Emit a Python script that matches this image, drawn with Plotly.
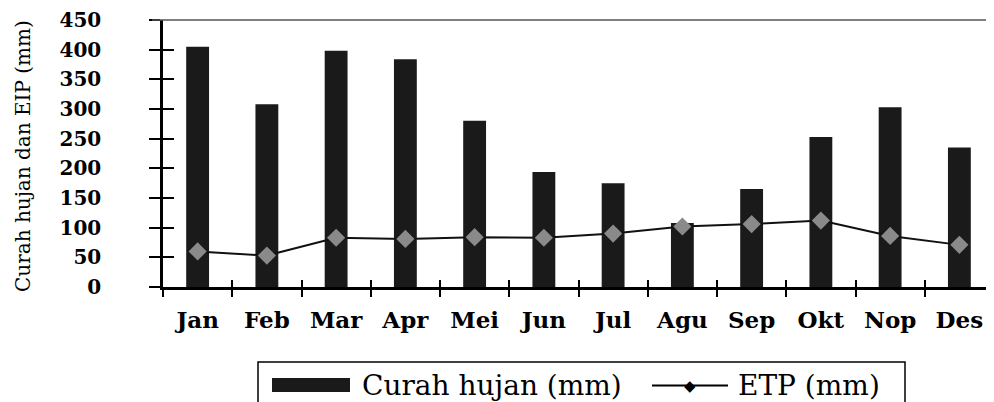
import plotly.graph_objects as go

months = ["Jan", "Feb", "Mar", "Apr", "Mei", "Jun", "Jul", "Agu", "Sep", "Okt", "Nop", "Des"]
curah_hujan = [405, 308, 398, 384, 280, 194, 175, 108, 165, 253, 303, 235]
etp = [60, 53, 83, 81, 84, 83, 90, 102, 106, 112, 86, 71]
y_ticks = [0, 50, 100, 150, 200, 250, 300, 350, 400, 450]

# the page body has an 8px default margin, so the figure is sized/placed to compensate
OFF = 8
W, H = 994 - OFF, 402 - OFF
ML, MR, MT = 163 - OFF, 0, 20 - OFF
MB = H - (287 - OFF)
PW, PH = W - ML - MR, H - MT - MB


def px(x):
    """reference page x (pixels) -> paper coordinate"""
    return (x - OFF - ML) / PW


def py(y):
    """reference page y (pixels) -> paper coordinate"""
    return (H - MB - (y - OFF)) / PH


SERIF = "DejaVu Serif"

fig = go.Figure()
fig.add_trace(go.Bar(
    x=months, y=curah_hujan, name="Curah hujan (mm)",
    marker=dict(color="#1a1a1a", line=dict(width=0)), width=0.33,
    showlegend=False,
))
fig.add_trace(go.Scatter(
    x=months, y=etp, name="ETP (mm)", mode="lines+markers",
    line=dict(color="#111111", width=2),
    marker=dict(symbol="diamond", size=14, color="#8a8a8a", line=dict(width=0)),
    showlegend=False,
))
# invisible helper trace so the overlay axes (crossing ticks) are drawn
fig.add_trace(go.Scatter(x=[None], y=[None], xaxis="x2", yaxis="y2",
                         showlegend=False, hoverinfo="skip"))

fig.update_layout(
    width=W, height=H,
    margin=dict(l=ML, r=MR, t=MT, b=MB, pad=0, autoexpand=False),
    paper_bgcolor="white", plot_bgcolor="white",
    xaxis=dict(
        type="category", range=[-0.5, 11.5], tickson="boundaries",
        ticks="outside", ticklen=7, tickwidth=2, tickcolor="black",
        showline=True, linecolor="black", linewidth=2.5,
        showgrid=False, zeroline=False, automargin=False,
        tickfont=dict(family=SERIF, size=23, color="black", weight="bold"),
        ticklabelstandoff=11, ticklabeloverflow="allow",
    ),
    yaxis=dict(
        range=[0, 450], tickvals=y_ticks,
        ticks="outside", ticklen=11, tickwidth=2, tickcolor="black",
        showline=True, linecolor="black", linewidth=2.5,
        showgrid=False, zeroline=False, automargin=False,
        tickfont=dict(family=SERIF, size=20, color="black", weight="bold"),
        ticklabelstandoff=44, ticklabeloverflow="allow",
    ),
    xaxis2=dict(
        overlaying="x", anchor="y", range=[-0.5, 11.5],
        tickvals=[i + 0.5 for i in range(-1, 12)],
        ticks="inside", ticklen=7, tickwidth=2, tickcolor="black",
        showticklabels=False, showline=False, showgrid=False, zeroline=False,
    ),
    yaxis2=dict(
        overlaying="y", anchor="x", range=[0, 450], tickvals=y_ticks,
        ticks="inside", ticklen=11, tickwidth=2, tickcolor="black",
        showticklabels=False, showline=False, showgrid=False, zeroline=False,
    ),
    showlegend=False,
)

# top border line of the plot area
fig.add_shape(type="line", xref="paper", yref="paper", x0=px(152), x1=1, y0=1, y1=1,
              line=dict(color="#555555", width=1.5))

# y axis title
fig.add_annotation(
    text="Curah hujan dan EIP (mm)", textangle=-90,
    xref="paper", yref="paper", x=px(23), y=py(156),
    xanchor="center", yanchor="middle", showarrow=False,
    font=dict(family=SERIF, size=20, color="black"),
)

# legend (drawn by hand to match the wide swatch of the original)
fig.add_shape(type="rect", xref="paper", yref="paper",
              x0=px(258), x1=px(905), y0=py(430), y1=py(362),
              line=dict(color="black", width=1.5), fillcolor="white", layer="below")
fig.add_shape(type="rect", xref="paper", yref="paper",
              x0=px(272), x1=px(350), y0=py(392), y1=py(378),
              line=dict(width=0), fillcolor="#1a1a1a")
fig.add_annotation(text="Curah hujan (mm)", xref="paper", yref="paper",
                   x=px(360), y=py(385), xanchor="left", yanchor="middle",
                   showarrow=False, font=dict(family=SERIF, size=28, color="black"))
fig.add_shape(type="line", xref="paper", yref="paper",
              x0=px(652), x1=px(728), y0=py(385.5), y1=py(385.5),
              line=dict(color="black", width=2))
fig.add_annotation(text="\u25c6", xref="paper", yref="paper",
                   x=px(690), y=py(385.5), xanchor="center", yanchor="middle",
                   showarrow=False, font=dict(family="DejaVu Sans", size=15, color="black"))
fig.add_annotation(text="ETP (mm)", xref="paper", yref="paper",
                   x=px(736), y=py(385), xanchor="left", yanchor="middle",
                   showarrow=False, font=dict(family=SERIF, size=28, color="black"))

fig.write_html("out.html")
